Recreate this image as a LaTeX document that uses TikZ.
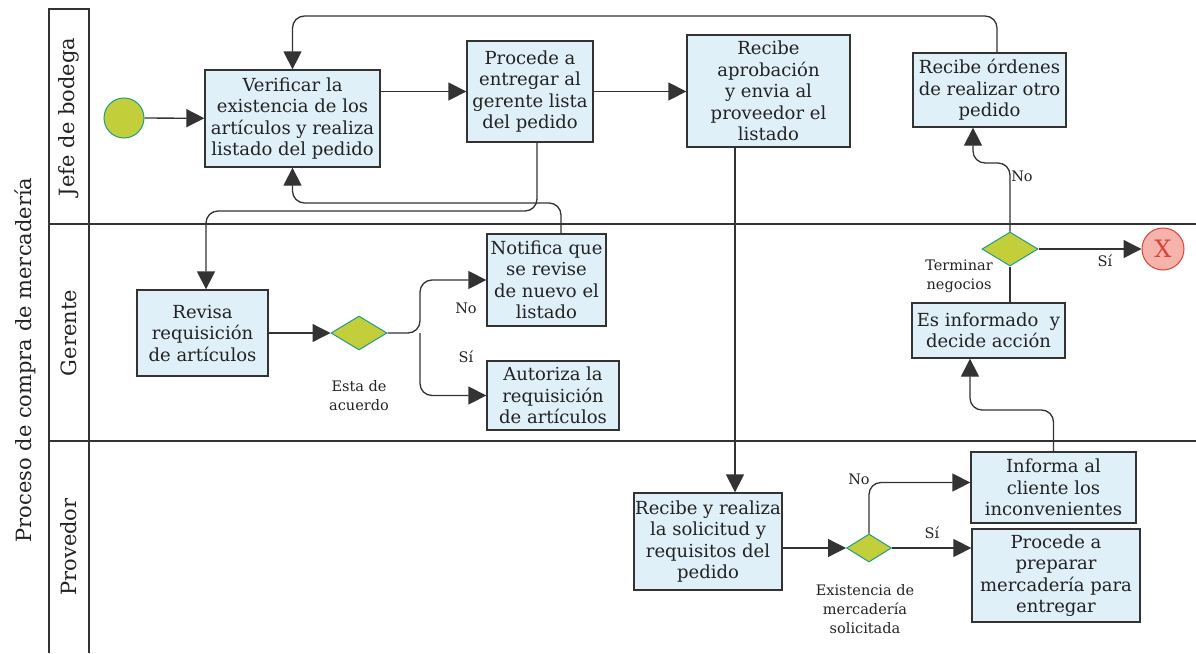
\documentclass[tikz,border=0pt]{standalone}
\usepackage{fontspec}
\setmainfont{DejaVu Serif}
\usetikzlibrary{shapes.geometric,arrows.meta,calc}
\definecolor{linec}{HTML}{333333}
\definecolor{taskfill}{HTML}{E0F0F9}
\definecolor{gatefill}{HTML}{C3CE3B}
\definecolor{gateline}{HTML}{1F9C86}
\definecolor{endfill}{HTML}{F5B3AC}
\definecolor{endline}{HTML}{D8433A}
\definecolor{txt}{HTML}{222222}
\begin{document}
\begin{tikzpicture}[x=1pt,y=-1pt,
  task/.style={draw=linec, fill=taskfill, line width=1.3pt, inner sep=0pt, align=center, text=txt,
    font=\fontsize{18pt}{21.5pt}\selectfont},
  gate/.style={diamond, draw=gateline, fill=gatefill, line width=1pt, inner sep=0pt},
  flow/.style={draw=linec, line width=1.3pt, rounded corners=12pt, -{Triangle[length=18pt,width=18pt]}},
  plain/.style={draw=linec, line width=1.3pt, rounded corners=12pt},
  lane/.style={draw=linec, line width=1.2pt},
  lbl/.style={text=txt, font=\fontsize{14.5pt}{19pt}\selectfont, align=center, inner sep=0pt},
  lanelbl/.style={text=txt, font=\fontsize{21pt}{24pt}\selectfont, rotate=90, inner sep=0pt}
]
\useasboundingbox (0,0) rectangle (1196,653);
% lanes
\draw[lane] (49,653) -- (49,9) -- (89,9) -- (89,653);
\draw[lane] (49,224) -- (1196,224);
\draw[lane] (49,441) -- (1196,441);
\node[lanelbl] (title) at (25,360) {Proceso de compra de mercadería};
\node[lanelbl] (l1) at (69,117) {Jefe de bodega};
\node[lanelbl] (l2) at (69,333) {Gerente};
\node[lanelbl] (l3) at (69,547) {Provedor};
% Jefe de bodega
\node[circle, draw=gateline, fill=gatefill, line width=1pt, minimum size=40pt, inner sep=0pt] (start) at (124,118) {};
\node[task, minimum width=175pt, minimum height=97pt] (verify) at (292.5,118.5) {Verificar la\\existencia de los\\artículos y realiza\\listado del pedido};
\node[task, minimum width=126pt, minimum height=101pt] (procede) at (530,91.5) {Procede a\\entregar al\\gerente lista\\del pedido};
\node[task, minimum width=163pt, minimum height=112pt] (aprob) at (768.5,91) {Recibe\\aprobación\\y envia al\\proveedor el\\listado};
\node[task, minimum width=153pt, minimum height=74pt] (ordenes) at (989.5,90) {Recibe órdenes\\de realizar otro\\pedido};
% Gerente
\node[task, minimum width=131pt, minimum height=86pt] (revisa) at (202.5,333) {Revisa\\requisición\\de artículos};
\node[gate, minimum width=56pt, minimum height=34pt] (d1) at (359,333) {};
\node[task, minimum width=119pt, minimum height=92pt] (notifica) at (546.5,280) {Notifica que\\se revise\\de nuevo el\\listado};
\node[task, minimum width=132pt, minimum height=69pt] (autoriza) at (553,395.5) {Autoriza la\\requisición\\de artículos};
\node[gate, minimum width=56pt, minimum height=34pt] (d2) at (1010,249) {};
\node[circle, draw=endline, fill=endfill, line width=1pt, minimum size=42pt, inner sep=0pt, text=endline,
  font=\fontsize{24pt}{24pt}\selectfont] (endev) at (1163,249) {X};
\node[task, minimum width=153pt, minimum height=55pt] (informado) at (988.5,330.5) {Es informado \ y\\decide acción};
% Provedor
\node[task, minimum width=148pt, minimum height=97pt] (recibe) at (708,541.5) {Recibe y realiza\\la solicitud y\\requisitos del\\pedido};
\node[gate, minimum width=45pt, minimum height=28pt] (d3) at (869,548) {};
\node[task, minimum width=165pt, minimum height=71pt] (informa) at (1053.5,487.5) {Informa al\\cliente los\\inconvenientes};
\node[task, minimum width=168pt, minimum height=93pt] (preparar) at (1056,575.5) {Procede a\\preparar\\mercadería para\\entregar};
% labels
\node[lbl] (la1) at (359,396) {Esta de\\acuerdo};
\node[lbl] (la2) at (466,308) {No};
\node[lbl] (la3) at (466,357) {Sí};
\node[lbl] (la4) at (959,276) {Terminar\\negocios};
\node[lbl] (la5) at (1105,261) {Sí};
\node[lbl] (la6) at (1022,176) {No};
\node[lbl] (la7) at (865,609) {Existencia de\\mercadería\\solicitada};
\node[lbl] (la8) at (859,479) {No};
\node[lbl] (la9) at (932,533) {Sí};
% coordinates
\coordinate (c4) at (292.5,16);
\coordinate (c5) at (206,211);
\coordinate (c6) at (292.5,203);
\coordinate (c9) at (420,333);
\coordinate (c13) at (970,410);
\coordinate (c15) at (973,163);
% flows
\draw[flow] (start) -- (verify);
\draw[flow] (procede.west -| verify.east) -- (procede.west);
\draw[flow] (procede.east) -- (procede.east -| aprob.west);
\draw[flow] ([xshift=7.5pt]ordenes.north) |- (c4) -- (verify.north);
\draw[flow] ([xshift=7pt]procede.south) |- (c5) -- (c5 |- revisa.north);
\draw[flow] ([xshift=14.5pt]notifica.north) |- (c6) -- (verify.south);
\draw[flow] ([xshift=-33.5pt]aprob.south) -- ([xshift=-33.5pt]aprob.south |- recibe.north);
\draw[flow] (revisa.east |- d1.west) -- (d1.west);
\draw[flow] (d1.east) -- (c9) |- (notifica.west);
\draw[flow] (c9) |- (autoriza.west -| notifica.west);
\draw[flow] (d3.west -| recibe.east) -- (d3.west);
\draw[flow] (d3.north) |- ([yshift=5pt]informa.west);
\draw[flow] (d3.east) -- (d3.east -| preparar.west);
\draw[flow] (informa.north) |- (c13) -- ([xshift=-18.5pt]informado.south);
\draw[plain] (d2.south |- informado.north) -- (d2.south);
\draw[flow] (d2.north) |- (c15) -- ([xshift=-16.5pt]ordenes.south);
\draw[flow] (d2.east) -- (endev.west);
\end{tikzpicture}
\end{document}
